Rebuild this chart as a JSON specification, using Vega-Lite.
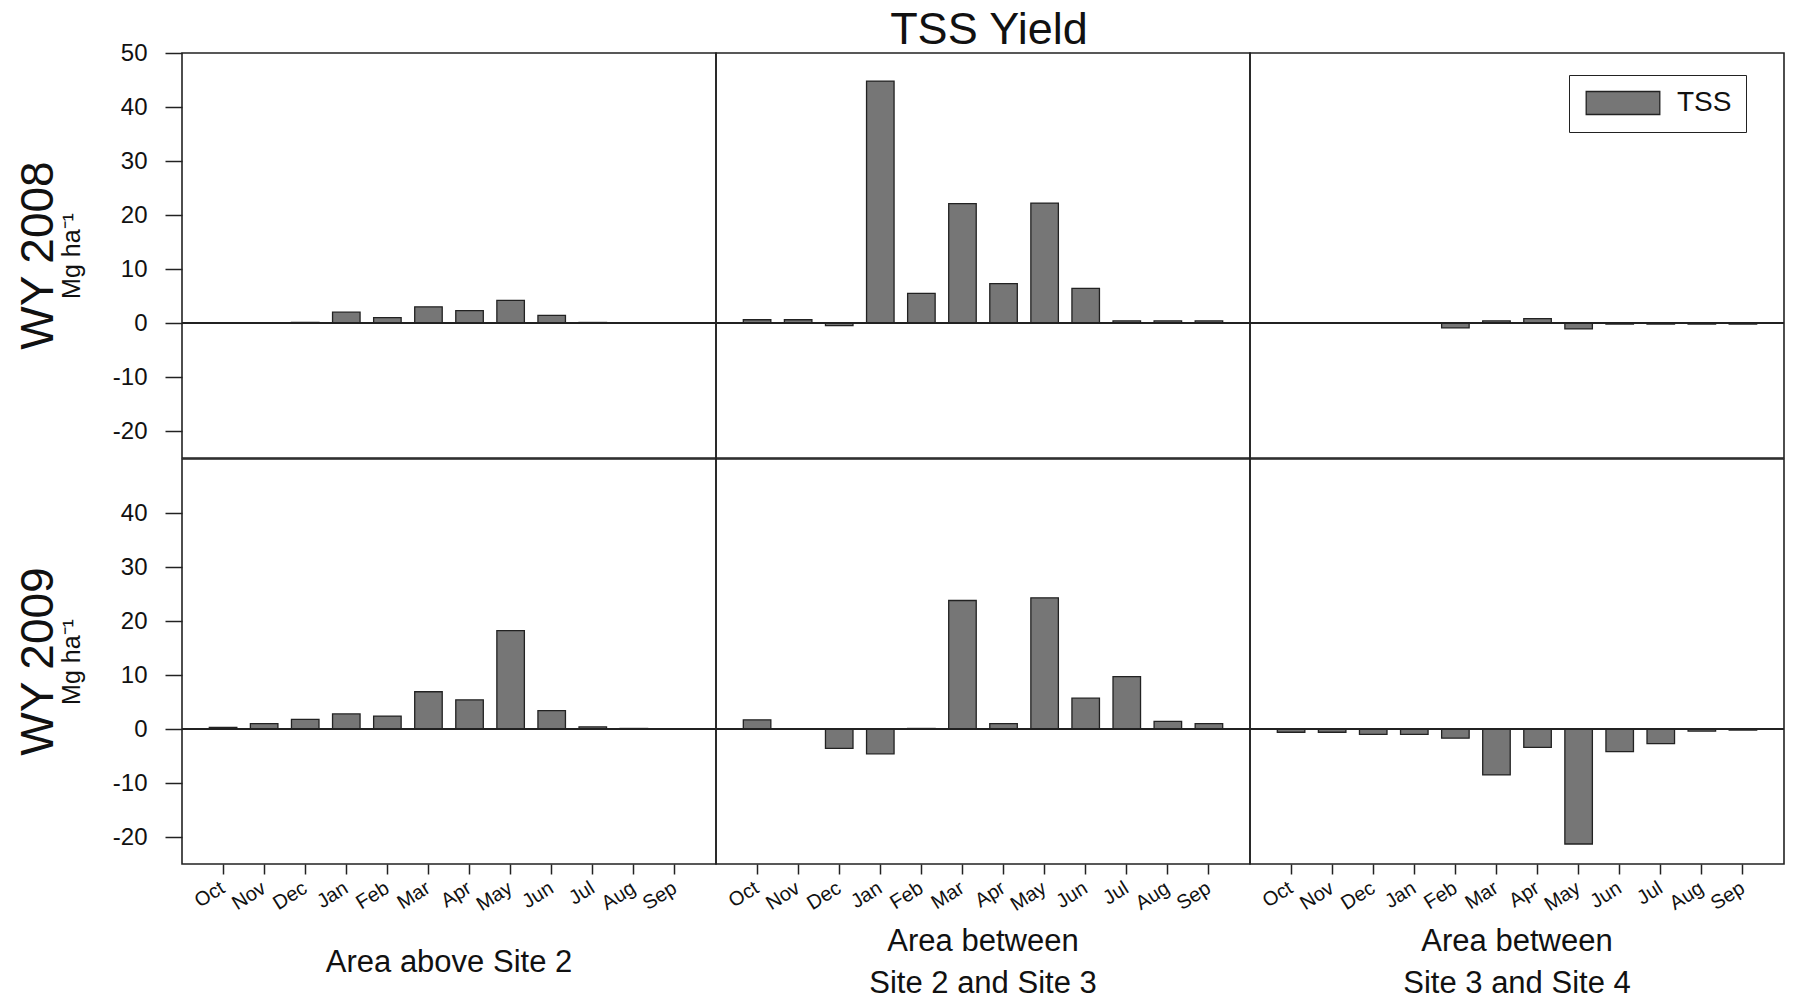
{
  "$schema": "https://vega.github.io/schema/vega-lite/v6.json",
  "padding": {"left": 16, "top": 8, "right": 10, "bottom": 0},
  "title": {"text": "TSS Yield", "fontSize": 45, "font": "Liberation Sans", "fontWeight": "normal", "color": "#111", "anchor": "middle", "offset": -12, "dx": 88},
  "data": {
    "values": [
      {"year": "WY 2008", "area": "Area above Site 2", "month": "Oct", "tss": 0},
      {"year": "WY 2008", "area": "Area above Site 2", "month": "Nov", "tss": 0},
      {"year": "WY 2008", "area": "Area above Site 2", "month": "Dec", "tss": 0.1},
      {"year": "WY 2008", "area": "Area above Site 2", "month": "Jan", "tss": 2.0},
      {"year": "WY 2008", "area": "Area above Site 2", "month": "Feb", "tss": 1.0},
      {"year": "WY 2008", "area": "Area above Site 2", "month": "Mar", "tss": 3.0},
      {"year": "WY 2008", "area": "Area above Site 2", "month": "Apr", "tss": 2.3},
      {"year": "WY 2008", "area": "Area above Site 2", "month": "May", "tss": 4.2},
      {"year": "WY 2008", "area": "Area above Site 2", "month": "Jun", "tss": 1.4},
      {"year": "WY 2008", "area": "Area above Site 2", "month": "Jul", "tss": 0.1},
      {"year": "WY 2008", "area": "Area above Site 2", "month": "Aug", "tss": 0},
      {"year": "WY 2008", "area": "Area above Site 2", "month": "Sep", "tss": 0},
      {"year": "WY 2008", "area": "Area between Site 2 and Site 3", "month": "Oct", "tss": 0.6},
      {"year": "WY 2008", "area": "Area between Site 2 and Site 3", "month": "Nov", "tss": 0.6},
      {"year": "WY 2008", "area": "Area between Site 2 and Site 3", "month": "Dec", "tss": -0.5},
      {"year": "WY 2008", "area": "Area between Site 2 and Site 3", "month": "Jan", "tss": 44.8},
      {"year": "WY 2008", "area": "Area between Site 2 and Site 3", "month": "Feb", "tss": 5.5},
      {"year": "WY 2008", "area": "Area between Site 2 and Site 3", "month": "Mar", "tss": 22.1},
      {"year": "WY 2008", "area": "Area between Site 2 and Site 3", "month": "Apr", "tss": 7.3},
      {"year": "WY 2008", "area": "Area between Site 2 and Site 3", "month": "May", "tss": 22.2},
      {"year": "WY 2008", "area": "Area between Site 2 and Site 3", "month": "Jun", "tss": 6.4},
      {"year": "WY 2008", "area": "Area between Site 2 and Site 3", "month": "Jul", "tss": 0.4},
      {"year": "WY 2008", "area": "Area between Site 2 and Site 3", "month": "Aug", "tss": 0.4},
      {"year": "WY 2008", "area": "Area between Site 2 and Site 3", "month": "Sep", "tss": 0.4},
      {"year": "WY 2008", "area": "Area between Site 3 and Site 4", "month": "Oct", "tss": 0},
      {"year": "WY 2008", "area": "Area between Site 3 and Site 4", "month": "Nov", "tss": 0},
      {"year": "WY 2008", "area": "Area between Site 3 and Site 4", "month": "Dec", "tss": 0},
      {"year": "WY 2008", "area": "Area between Site 3 and Site 4", "month": "Jan", "tss": 0},
      {"year": "WY 2008", "area": "Area between Site 3 and Site 4", "month": "Feb", "tss": -0.9},
      {"year": "WY 2008", "area": "Area between Site 3 and Site 4", "month": "Mar", "tss": 0.4},
      {"year": "WY 2008", "area": "Area between Site 3 and Site 4", "month": "Apr", "tss": 0.8},
      {"year": "WY 2008", "area": "Area between Site 3 and Site 4", "month": "May", "tss": -1.1},
      {"year": "WY 2008", "area": "Area between Site 3 and Site 4", "month": "Jun", "tss": -0.2},
      {"year": "WY 2008", "area": "Area between Site 3 and Site 4", "month": "Jul", "tss": -0.2},
      {"year": "WY 2008", "area": "Area between Site 3 and Site 4", "month": "Aug", "tss": -0.2},
      {"year": "WY 2008", "area": "Area between Site 3 and Site 4", "month": "Sep", "tss": -0.2},
      {"year": "WY 2009", "area": "Area above Site 2", "month": "Oct", "tss": 0.3},
      {"year": "WY 2009", "area": "Area above Site 2", "month": "Nov", "tss": 1.0},
      {"year": "WY 2009", "area": "Area above Site 2", "month": "Dec", "tss": 1.8},
      {"year": "WY 2009", "area": "Area above Site 2", "month": "Jan", "tss": 2.8},
      {"year": "WY 2009", "area": "Area above Site 2", "month": "Feb", "tss": 2.4},
      {"year": "WY 2009", "area": "Area above Site 2", "month": "Mar", "tss": 6.9},
      {"year": "WY 2009", "area": "Area above Site 2", "month": "Apr", "tss": 5.4},
      {"year": "WY 2009", "area": "Area above Site 2", "month": "May", "tss": 18.2},
      {"year": "WY 2009", "area": "Area above Site 2", "month": "Jun", "tss": 3.4},
      {"year": "WY 2009", "area": "Area above Site 2", "month": "Jul", "tss": 0.4},
      {"year": "WY 2009", "area": "Area above Site 2", "month": "Aug", "tss": 0.1},
      {"year": "WY 2009", "area": "Area above Site 2", "month": "Sep", "tss": 0},
      {"year": "WY 2009", "area": "Area between Site 2 and Site 3", "month": "Oct", "tss": 1.7},
      {"year": "WY 2009", "area": "Area between Site 2 and Site 3", "month": "Nov", "tss": 0},
      {"year": "WY 2009", "area": "Area between Site 2 and Site 3", "month": "Dec", "tss": -3.6},
      {"year": "WY 2009", "area": "Area between Site 2 and Site 3", "month": "Jan", "tss": -4.6},
      {"year": "WY 2009", "area": "Area between Site 2 and Site 3", "month": "Feb", "tss": 0.1},
      {"year": "WY 2009", "area": "Area between Site 2 and Site 3", "month": "Mar", "tss": 23.8},
      {"year": "WY 2009", "area": "Area between Site 2 and Site 3", "month": "Apr", "tss": 1.0},
      {"year": "WY 2009", "area": "Area between Site 2 and Site 3", "month": "May", "tss": 24.3},
      {"year": "WY 2009", "area": "Area between Site 2 and Site 3", "month": "Jun", "tss": 5.7},
      {"year": "WY 2009", "area": "Area between Site 2 and Site 3", "month": "Jul", "tss": 9.7},
      {"year": "WY 2009", "area": "Area between Site 2 and Site 3", "month": "Aug", "tss": 1.4},
      {"year": "WY 2009", "area": "Area between Site 2 and Site 3", "month": "Sep", "tss": 1.0},
      {"year": "WY 2009", "area": "Area between Site 3 and Site 4", "month": "Oct", "tss": -0.6},
      {"year": "WY 2009", "area": "Area between Site 3 and Site 4", "month": "Nov", "tss": -0.6},
      {"year": "WY 2009", "area": "Area between Site 3 and Site 4", "month": "Dec", "tss": -1.0},
      {"year": "WY 2009", "area": "Area between Site 3 and Site 4", "month": "Jan", "tss": -1.0},
      {"year": "WY 2009", "area": "Area between Site 3 and Site 4", "month": "Feb", "tss": -1.7},
      {"year": "WY 2009", "area": "Area between Site 3 and Site 4", "month": "Mar", "tss": -8.5},
      {"year": "WY 2009", "area": "Area between Site 3 and Site 4", "month": "Apr", "tss": -3.4},
      {"year": "WY 2009", "area": "Area between Site 3 and Site 4", "month": "May", "tss": -21.3},
      {"year": "WY 2009", "area": "Area between Site 3 and Site 4", "month": "Jun", "tss": -4.2},
      {"year": "WY 2009", "area": "Area between Site 3 and Site 4", "month": "Jul", "tss": -2.7},
      {"year": "WY 2009", "area": "Area between Site 3 and Site 4", "month": "Aug", "tss": -0.4},
      {"year": "WY 2009", "area": "Area between Site 3 and Site 4", "month": "Sep", "tss": -0.2}
    ]
  },
  "spacing": -2,
  "vconcat": [
    {
      "transform": [{"filter": "datum.year === 'WY 2008'"}, {"calculate": "'TSS'", "as": "series"}],
      "facet": {
        "row": {"field": "year", "type": "nominal", "header": {"title": null, "labelAngle": -90, "labelOrient": "left", "labelFontSize": 46, "labelFont": "Liberation Sans", "labelColor": "#111", "labelPadding": -26}},
        "column": {"field": "area", "type": "nominal", "sort": ["Area above Site 2", "Area between Site 2 and Site 3", "Area between Site 3 and Site 4"], "header": {"title": null, "labels": false}}
      },
      "spacing": 0,
      "bounds": "flush",
      "spec": {
        "width": 534,
        "height": 405,
        "layer": [
          {
            "mark": {"type": "bar", "stroke": "#222", "strokeWidth": 1.3},
            "encoding": {
              "x": {"field": "month", "type": "nominal", "sort": ["Oct","Nov","Dec","Jan","Feb","Mar","Apr","May","Jun","Jul","Aug","Sep"], "scale": {"paddingInner": 0.33, "paddingOuter": 0.665}, "axis": null},
              "y": {"field": "tss", "type": "quantitative", "scale": {"domain": [-25, 50], "nice": false, "zero": false}, "axis": {"values": [-20,-10,0,10,20,30,40,50], "title": "Mg ha⁻¹"}},
              "fill": {"field": "series", "type": "nominal", "scale": {"range": ["#767676"]}, "legend": {"title": null, "orient": "none", "legendX": 1387, "legendY": 22, "strokeColor": "#222", "padding": 14, "symbolType": "M-3.2,-1H3.2V1H-3.2Z", "symbolSize": 529, "symbolOffset": 26, "symbolStrokeColor": "#222", "symbolStrokeWidth": 1.3, "labelFontSize": 28, "labelFont": "Liberation Sans", "labelColor": "#111", "labelOffset": 40}}
            }
          },
          {
            "mark": {"type": "rule", "color": "#222", "strokeWidth": 1.5},
            "encoding": {"y": {"datum": 0}}
          }
        ]
      }
    },
    {
      "transform": [{"filter": "datum.year === 'WY 2009'"}],
      "facet": {
        "row": {"field": "year", "type": "nominal", "header": {"title": null, "labelAngle": -90, "labelOrient": "left", "labelFontSize": 46, "labelFont": "Liberation Sans", "labelColor": "#111", "labelPadding": -26}},
        "column": {"field": "area", "type": "nominal", "sort": ["Area above Site 2", "Area between Site 2 and Site 3", "Area between Site 3 and Site 4"], "header": {"title": null, "labelOrient": "bottom", "labelFontSize": 31, "labelFont": "Liberation Sans", "labelColor": "#111", "labelExpr": "datum.value == 'Area above Site 2' ? ['\u2800', datum.value] : ['Area between', '\u2800', replace(datum.value, 'Area between ', '')]", "labelLineHeight": 21, "labelBaseline": "middle", "labelPadding": 27}}
      },
      "spacing": 0,
      "bounds": "flush",
      "spec": {
        "width": 534,
        "height": 405,
        "layer": [
          {
            "mark": {"type": "bar", "stroke": "#222", "strokeWidth": 1.3, "fill": "#767676"},
            "encoding": {
              "x": {"field": "month", "type": "nominal", "sort": ["Oct","Nov","Dec","Jan","Feb","Mar","Apr","May","Jun","Jul","Aug","Sep"], "scale": {"paddingInner": 0.33, "paddingOuter": 0.665}, "axis": {"title": null, "labelAngle": -32, "labelFontSize": 20, "tickSize": 10, "labelPadding": 12}},
              "y": {"field": "tss", "type": "quantitative", "scale": {"domain": [-25, 50], "nice": false, "zero": false}, "axis": {"values": [-20,-10,0,10,20,30,40], "title": "Mg ha⁻¹"}}
            }
          },
          {
            "mark": {"type": "rule", "color": "#222", "strokeWidth": 1.5},
            "encoding": {"y": {"datum": 0}}
          }
        ]
      }
    }
  ],
  "resolve": {"scale": {"x": "independent"}},
  "config": {
    "font": "Liberation Sans",
    "view": {"stroke": "#222", "strokeWidth": 1.6},
    "axis": {"grid": false, "domain": false, "tickColor": "#222", "tickWidth": 1.5, "labelColor": "#111", "labelFont": "Liberation Sans", "titleFont": "Liberation Sans", "titleFontWeight": "normal", "titleColor": "#111"},
    "axisY": {"tickSize": 17, "labelFontSize": 24, "labelPadding": 18, "titleFontSize": 25, "titlePadding": 28, "labelExpr": "replace(datum.label, '−', '-')"},
    "axisX": {"labelBaseline": "middle", "labelAlign": "right"}
  }
}
